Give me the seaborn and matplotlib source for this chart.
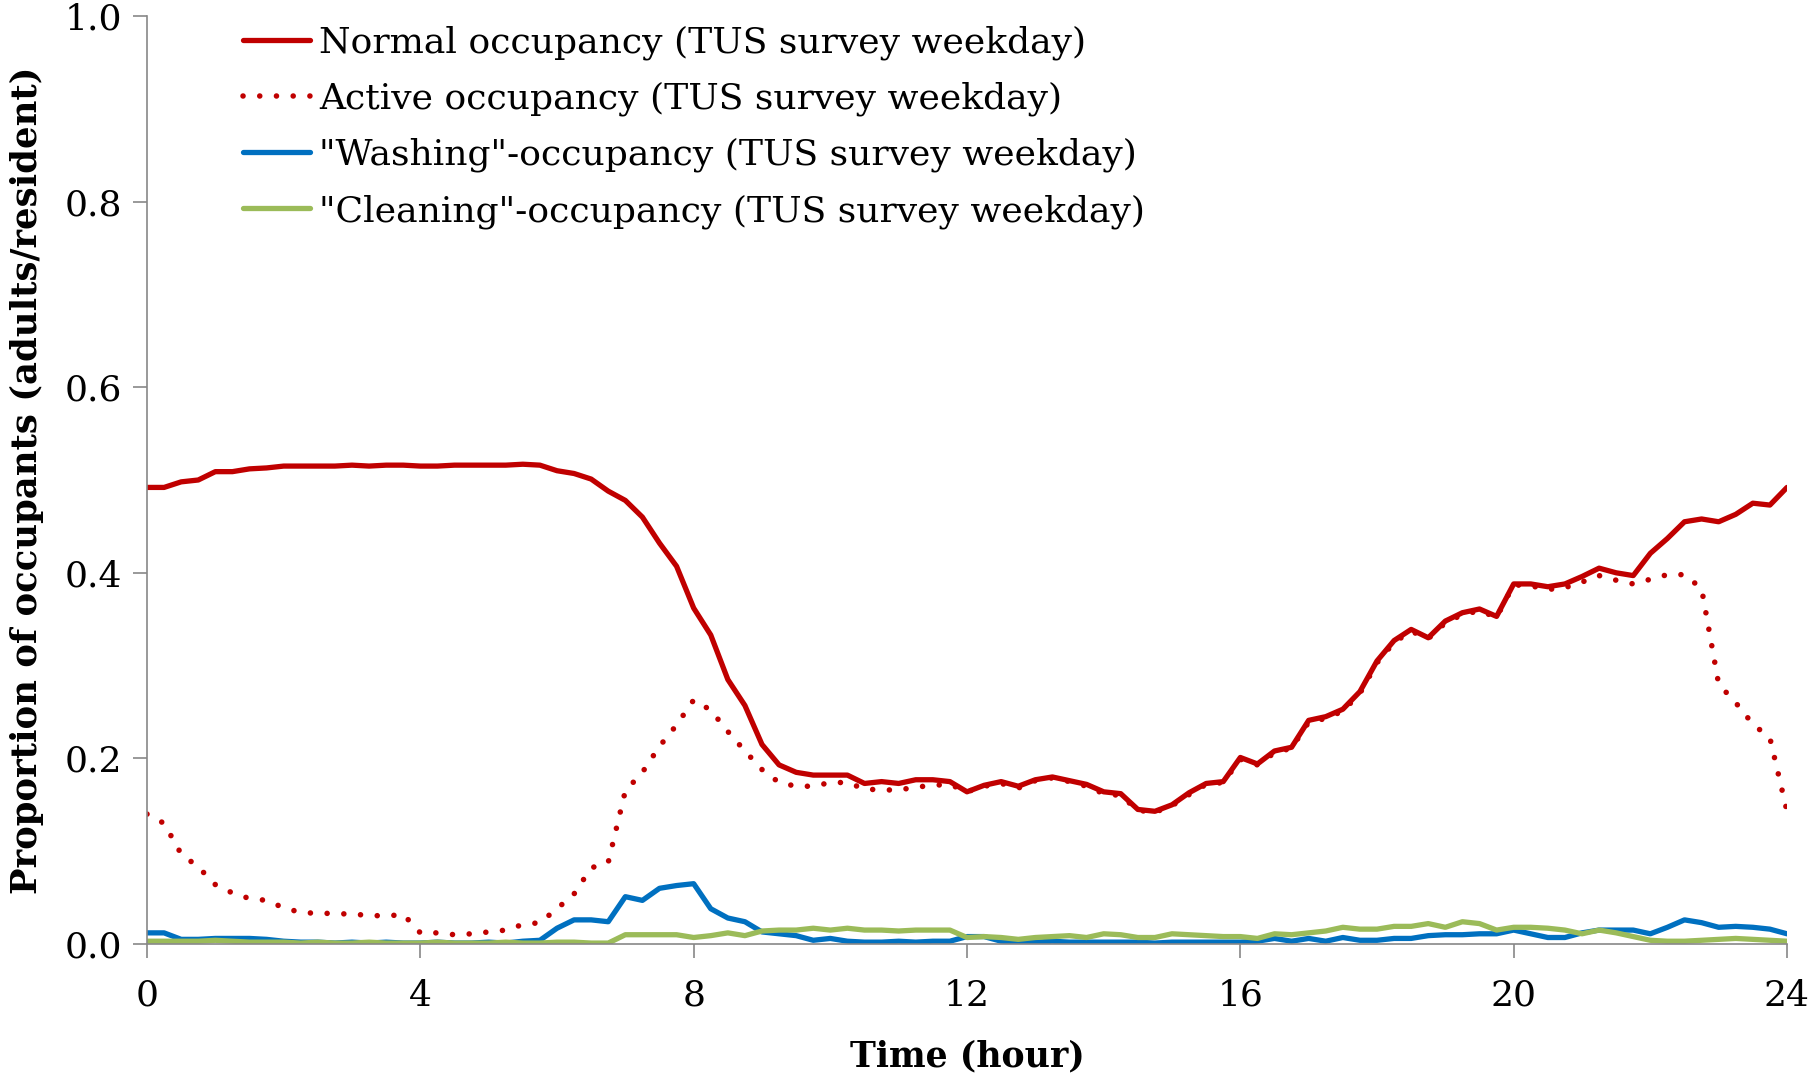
import numpy as np
import pandas as pd
import matplotlib
matplotlib.use('Agg')
import matplotlib.pyplot as plt
import seaborn as sns

# time axis: 15-minute steps over the day
hours = np.linspace(0, 24, 97)

normal = [0.492, 0.492, 0.498, 0.500, 0.509, 0.509, 0.512, 0.513,
          0.515, 0.515, 0.515, 0.515, 0.516, 0.515, 0.516, 0.516,
          0.515, 0.515, 0.516, 0.516, 0.516, 0.516, 0.517, 0.516,
          0.510, 0.507, 0.501, 0.488, 0.478, 0.460, 0.432, 0.407,
          0.362, 0.333, 0.285, 0.257, 0.215, 0.193, 0.185, 0.182,
          0.182, 0.182, 0.173, 0.175, 0.173, 0.177, 0.177, 0.175,
          0.164, 0.171, 0.175, 0.170, 0.177, 0.180, 0.176, 0.172,
          0.164, 0.162, 0.145, 0.143, 0.150, 0.163, 0.173, 0.175,
          0.201, 0.194, 0.208, 0.212, 0.241, 0.245, 0.253, 0.272,
          0.305, 0.327, 0.339, 0.330, 0.348, 0.357, 0.361, 0.353,
          0.388, 0.388, 0.385, 0.388, 0.396, 0.405, 0.400, 0.397,
          0.421, 0.437, 0.455, 0.458, 0.455, 0.463, 0.475, 0.473,
          0.492]

active = [0.140, 0.130, 0.097, 0.083, 0.064, 0.055, 0.049, 0.047,
          0.039, 0.034, 0.033, 0.033, 0.032, 0.031, 0.030, 0.032,
          0.012, 0.012, 0.010, 0.011, 0.013, 0.015, 0.021, 0.023,
          0.038, 0.054, 0.082, 0.088, 0.165, 0.185, 0.213, 0.236,
          0.263, 0.252, 0.229, 0.208, 0.188, 0.174, 0.170, 0.170,
          0.174, 0.174, 0.167, 0.166, 0.166, 0.169, 0.171, 0.172,
          0.164, 0.170, 0.173, 0.168, 0.176, 0.179, 0.175, 0.170,
          0.162, 0.160, 0.144, 0.142, 0.149, 0.161, 0.172, 0.174,
          0.199, 0.193, 0.206, 0.211, 0.239, 0.243, 0.251, 0.270,
          0.303, 0.325, 0.337, 0.329, 0.346, 0.355, 0.359, 0.352,
          0.387, 0.386, 0.382, 0.384, 0.390, 0.397, 0.392, 0.388,
          0.393, 0.398, 0.398, 0.383, 0.280, 0.260, 0.237, 0.222,
          0.143]

washing = [0.012, 0.012, 0.005, 0.005, 0.006, 0.006, 0.006, 0.005,
           0.003, 0.002, 0.002, 0.001, 0.002, 0.001, 0.002, 0.001,
           0.001, 0.002, 0.001, 0.001, 0.002, 0.001, 0.003, 0.004,
           0.017, 0.026, 0.026, 0.024, 0.051, 0.047, 0.060, 0.063,
           0.065, 0.038, 0.028, 0.024, 0.013, 0.011, 0.009, 0.004,
           0.006, 0.003, 0.002, 0.002, 0.003, 0.002, 0.003, 0.003,
           0.008, 0.008, 0.003, 0.002, 0.002, 0.003, 0.002, 0.002,
           0.002, 0.002, 0.002, 0.001, 0.002, 0.002, 0.002, 0.002,
           0.002, 0.003, 0.006, 0.003, 0.006, 0.003, 0.007, 0.004,
           0.004, 0.006, 0.006, 0.009, 0.010, 0.010, 0.011, 0.011,
           0.015, 0.011, 0.007, 0.007, 0.012, 0.015, 0.015, 0.015,
           0.011, 0.018, 0.026, 0.023, 0.018, 0.019, 0.018, 0.016,
           0.011]

cleaning = [0.003, 0.003, 0.003, 0.003, 0.004, 0.003, 0.002, 0.002,
            0.002, 0.001, 0.002, 0.001, 0.001, 0.002, 0.001, 0.001,
            0.001, 0.002, 0.001, 0.001, 0.001, 0.002, 0.001, 0.001,
            0.002, 0.002, 0.001, 0.001, 0.010, 0.010, 0.010, 0.010,
            0.007, 0.009, 0.012, 0.009, 0.014, 0.015, 0.015, 0.017,
            0.015, 0.017, 0.015, 0.015, 0.014, 0.015, 0.015, 0.015,
            0.007, 0.008, 0.007, 0.005, 0.007, 0.008, 0.009, 0.007,
            0.011, 0.010, 0.007, 0.007, 0.011, 0.010, 0.009, 0.008,
            0.008, 0.006, 0.011, 0.010, 0.012, 0.014, 0.018, 0.016,
            0.016, 0.019, 0.019, 0.022, 0.018, 0.024, 0.022, 0.015,
            0.018, 0.018, 0.017, 0.015, 0.011, 0.015, 0.012, 0.008,
            0.004, 0.003, 0.003, 0.004, 0.005, 0.006, 0.005, 0.004,
            0.003]

labels = ['Normal occupancy (TUS survey weekday)',
          'Active occupancy (TUS survey weekday)',
          '"Washing"-occupancy (TUS survey weekday)',
          '"Cleaning"-occupancy (TUS survey weekday)']
colors = ['#C00000', '#C00000', '#0070C0', '#9BBB59']
x_ticks = [0, 4, 8, 12, 16, 20, 24]
y_ticks = [0.0, 0.2, 0.4, 0.6, 0.8, 1.0]

sns.set_style('ticks')
plt.rcParams['font.family'] = ['DejaVu Serif']
plt.rcParams['text.color'] = 'black'
plt.rcParams['axes.labelcolor'] = 'black'

fig = plt.figure(figsize=(18.12, 10.78), dpi=100)
ax = fig.add_axes([147/1812, 1 - 944/1078, 1640/1812, 928/1078])

series = [normal, active, washing, cleaning]
for i, (vals, lab, col) in enumerate(zip(series, labels, colors)):
    if i == 1:
        sns.lineplot(x=hours, y=vals, ax=ax, color=col, lw=4.0, label=lab,
                     linestyle=(0, (0.01, 3.0)), dash_capstyle='round')
    else:
        sns.lineplot(x=hours, y=vals, ax=ax, color=col, lw=3.8, label=lab)

ax.set_xlim(0, 24)
ax.set_ylim(0, 1)
ax.set_xticks(x_ticks)
ax.set_yticks(y_ticks)
ax.set_yticklabels([f'{v:.1f}' for v in y_ticks])
sns.despine(ax=ax)
for s in ['left', 'bottom']:
    ax.spines[s].set_color('#878787')
    ax.spines[s].set_linewidth(1.2)
ax.tick_params(axis='both', colors='#878787', labelcolor='black', labelsize=26,
               length=10, width=1.2)
ax.tick_params(axis='x', pad=15)
ax.tick_params(axis='y', pad=8)

ax.set_xlabel('Time (hour)', fontsize=25, fontweight='bold')
ax.set_ylabel('Proportion of occupants (adults/resident)', fontsize=25.5, fontweight='bold')
ax.xaxis.set_label_coords(0.5, -0.103)
ax.yaxis.set_label_coords(-0.063, 0.5)

leg = ax.legend(loc='upper left', bbox_to_anchor=(0.0585, 0.99), frameon=False,
                fontsize=26, handlelength=1.85, handletextpad=0.25,
                labelspacing=0.6, borderpad=0, borderaxespad=0)

fig.savefig('out.png', dpi=100)
